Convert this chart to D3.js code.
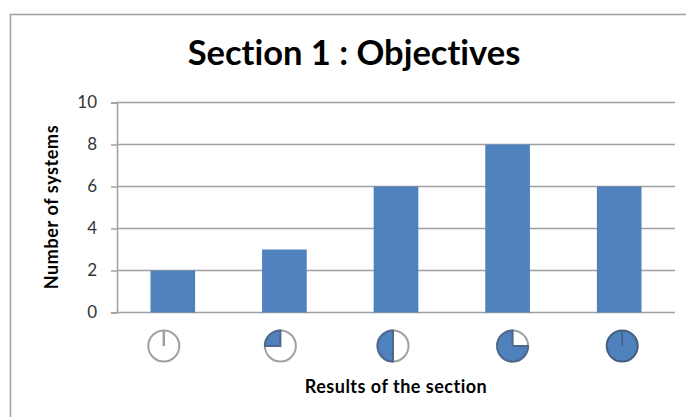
<!DOCTYPE html>
<html>
<head>
<meta charset="utf-8">
<script src="https://cdn.jsdelivr.net/npm/d3@7"></script>
<style>
  html, body { margin: 0; padding: 0; background: #fff; overflow: hidden; }
  text { font-family: Lato, "Open Sans", sans-serif; font-variant-ligatures: none; }
</style>
</head>
<body>
<div id="chart"></div>
<script>
const categories = ["Empty", "Quarter", "Half", "Three quarters", "Full"];
const systemCounts = [2, 3, 6, 8, 6];
const sectionFractions = [0, 0.25, 0.5, 0.75, 1];
const yTicks = [0, 2, 4, 6, 8, 10];

const svgWidth = 686;
const svgHeight = 417;
const gridColor = "#a0a0a0";
const barColor = "#4f81bd";

const svg = d3.select("#chart").append("svg")
  .attr("width", svgWidth)
  .attr("height", svgHeight);

// Outer chart frame, runs off the right and bottom of the picture
svg.append("path")
  .attr("d", `M10.5,${svgHeight} V14.5 H${svgWidth}`)
  .attr("fill", "none")
  .attr("stroke", gridColor)
  .attr("stroke-width", 1.5);

svg.append("text")
  .attr("x", 354)
  .attr("y", 65)
  .attr("text-anchor", "middle")
  .style("font-size", "34.5px")
  .style("font-weight", 700)
  .attr("fill", "#000")
  .text("Section 1 : Objectives");

const x = d3.scaleBand()
  .domain(categories)
  .range([117, 675])
  .paddingInner(0.6)
  .paddingOuter(0.3);

const y = d3.scaleLinear()
  .domain([0, 10])
  .range([312.5, 102.5]);

// Gridlines and value axis
const yAxis = svg.append("g")
  .attr("transform", "translate(117,0)")
  .call(d3.axisLeft(y).tickValues(yTicks).tickSize(6).tickPadding(14));

yAxis.select(".domain").attr("stroke", gridColor).attr("stroke-width", 1.5);
yAxis.selectAll(".tick line").attr("stroke", gridColor).attr("stroke-width", 1.5);
yAxis.selectAll(".tick text")
  .attr("fill", "#333")
  .style("font-family", "Lato, sans-serif")
  .style("font-size", "17px");

svg.append("g")
  .selectAll("line")
  .data(yTicks)
  .enter().append("line")
  .attr("x1", 117)
  .attr("x2", 675)
  .attr("y1", d => y(d))
  .attr("y2", d => y(d))
  .attr("stroke", gridColor)
  .attr("stroke-width", 1.5);

svg.append("g")
  .selectAll("rect")
  .data(systemCounts)
  .enter().append("rect")
  .attr("x", (d, i) => x(categories[i]))
  .attr("y", d => y(d))
  .attr("width", x.bandwidth())
  .attr("height", d => y(0) - y(d))
  .attr("fill", barColor);

// Completion icons sit a little off the bar centres in the original
const iconShift = [-9, -4, -3, 5, 3];
const iconY = 346;
const iconR = 15.5;
const arc = d3.arc().innerRadius(0).outerRadius(iconR);

const icons = svg.append("g")
  .selectAll("g")
  .data(sectionFractions)
  .enter().append("g")
  .attr("transform", (d, i) =>
    `translate(${x(categories[i]) + x.bandwidth() / 2 + iconShift[i]},${iconY})`);

icons.append("circle")
  .attr("r", iconR)
  .attr("fill", d => d === 1 ? barColor : "#fff")
  .attr("stroke", d => d === 1 ? "#44607f" : gridColor)
  .attr("stroke-width", 2);

// Pie slice grows counter-clockwise from twelve o'clock
icons.filter(d => d > 0 && d < 1).append("path")
  .attr("d", d => arc({ startAngle: -2 * Math.PI * d, endAngle: 0 }))
  .attr("fill", barColor)
  .attr("stroke", "#50688a")
  .attr("stroke-width", 2)
  .attr("stroke-linejoin", "miter");

// Empty and full icons only show the twelve o'clock tick
icons.filter(d => d === 0 || d === 1).append("line")
  .attr("y1", 0)
  .attr("y2", -iconR)
  .attr("stroke", d => d === 1 ? "#44607f" : gridColor)
  .attr("stroke-width", d => d === 1 ? 1.5 : 2.5);

svg.append("text")
  .attr("x", 396)
  .attr("y", 393)
  .attr("text-anchor", "middle")
  .style("font-size", "18px")
  .style("letter-spacing", "0.5px")
  .style("font-weight", 700)
  .attr("fill", "#000")
  .text("Results of the section");

svg.append("text")
  .attr("transform", "translate(58,207) rotate(-90)")
  .attr("text-anchor", "middle")
  .style("font-size", "18px")
  .style("letter-spacing", "0.6px")
  .style("font-weight", 700)
  .attr("fill", "#000")
  .text("Number of systems");
</script>
</body>
</html>
